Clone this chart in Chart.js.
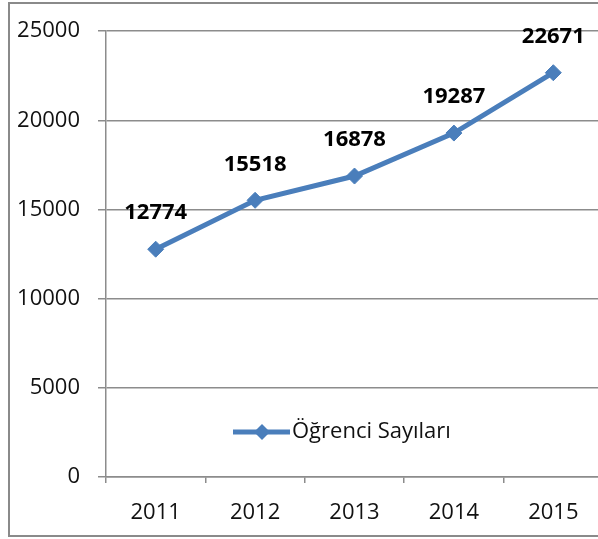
<!DOCTYPE html>
<html>
<head>
<meta charset="utf-8">
<script src="https://cdn.jsdelivr.net/npm/chart.js@4.4.1/dist/chart.umd.min.js"></script>
<style>
  html, body { margin: 0; padding: 0; background: #fff; overflow: hidden; }
  #page { width: 598px; height: 539px; overflow: hidden; position: relative; }
  canvas { display: block; }
</style>
</head>
<body>
<div id="page"><canvas id="myChart" width="604" height="539"></canvas></div>
<script>
// veriler
const years = ['2011', '2012', '2013', '2014', '2015'];
const ogrenciSayilari = [12774, 15518, 16878, 19287, 22671];
const seriesName = 'Öğrenci Sayıları';

const blue = '#4a7ebb';
const gray = '#8c8c8c';
const textColor = '#111';
const font = '"Open Sans", sans-serif';

// dış çerçeve: üst, sol ve alt kenar
const outerFrame = {
  id: 'outerFrame',
  beforeDraw(chart) {
    const ctx = chart.ctx;
    ctx.save();
    ctx.strokeStyle = '#8a8a8a';
    ctx.lineWidth = 2;
    ctx.beginPath();
    ctx.moveTo(8, 3);
    ctx.lineTo(chart.width, 3);
    ctx.stroke();
    ctx.beginPath();
    ctx.moveTo(9, 2);
    ctx.lineTo(9, 537);
    ctx.stroke();
    ctx.beginPath();
    ctx.moveTo(8, 536);
    ctx.lineTo(chart.width, 536);
    ctx.stroke();
    ctx.restore();
  }
};

// nokta üstündeki etiketler
const valueLabels = {
  id: 'valueLabels',
  afterDatasetsDraw(chart) {
    const ctx = chart.ctx;
    const meta = chart.getDatasetMeta(0);
    ctx.save();
    ctx.font = 'bold 22px ' + font;
    ctx.fillStyle = '#000';
    ctx.textAlign = 'center';
    ctx.textBaseline = 'middle';
    meta.data.forEach((pt, i) => {
      ctx.fillText(String(ogrenciSayilari[i]), pt.x, pt.y - 36);
    });
    ctx.restore();
  }
};

// grafik içindeki lejant
const innerLegend = {
  id: 'innerLegend',
  afterDraw(chart) {
    const ctx = chart.ctx;
    const y = 432;
    ctx.save();
    ctx.strokeStyle = blue;
    ctx.lineWidth = 5;
    ctx.beginPath();
    ctx.moveTo(233, y);
    ctx.lineTo(290, y);
    ctx.stroke();
    ctx.fillStyle = blue;
    ctx.beginPath();
    ctx.moveTo(262, y - 8);
    ctx.lineTo(270, y);
    ctx.lineTo(262, y + 8);
    ctx.lineTo(254, y);
    ctx.closePath();
    ctx.fill();
    ctx.font = '22px ' + font;
    ctx.fillStyle = textColor;
    ctx.textAlign = 'left';
    ctx.textBaseline = 'middle';
    ctx.fillText(seriesName, 292, y);
    ctx.restore();
  }
};

new Chart(document.getElementById('myChart'), {
  type: 'line',
  data: {
    labels: years,
    datasets: [{
      label: seriesName,
      data: ogrenciSayilari,
      borderColor: blue,
      backgroundColor: blue,
      borderWidth: 5,
      pointStyle: 'rectRot',
      pointRadius: 8,
      pointBorderWidth: 1,
      pointBackgroundColor: blue,
      pointBorderColor: blue,
      tension: 0
    }]
  },
  options: {
    responsive: false,
    animation: false,
    layout: { autoPadding: false, padding: { top: 31, right: 1, left: 0, bottom: 0 } },
    plugins: {
      legend: { display: false },
      tooltip: { enabled: false }
    },
    scales: {
      x: {
        offset: true,
        afterFit(scale) {
          scale.height = 62;
          scale.paddingLeft = 0;
          scale.paddingRight = 0;
        },
        grid: { offset: true, drawOnChartArea: false, drawTicks: true, tickLength: 6, color: gray, lineWidth: 1.5 },
        border: { display: true, color: gray, width: 1.5 },
        ticks: { color: textColor, font: { family: font, size: 22 }, padding: 17, maxRotation: 0 }
      },
      y: {
        min: 0,
        max: 25000,
        afterFit(scale) { scale.width = 106; },
        grid: { color: gray, lineWidth: 1.5, tickLength: 8 },
        border: { display: true, color: gray, width: 1.5 },
        ticks: {
          stepSize: 5000, color: textColor, font: { family: font, size: 22 }, padding: 18,
          callback: (v) => String(v)
        }
      }
    }
  },
  plugins: [outerFrame, valueLabels, innerLegend]
});
</script>
</body>
</html>
